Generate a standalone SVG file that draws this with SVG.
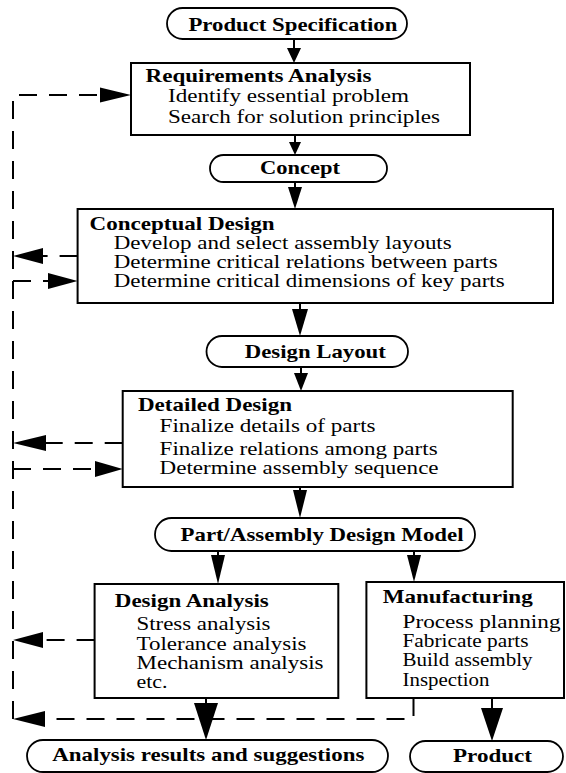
<svg xmlns="http://www.w3.org/2000/svg" width="566" height="773" viewBox="0 0 566 773">
<style>
.bg{fill:#fff}
.box{fill:#fff;stroke:#000;stroke-width:2}
.pill{fill:#fff;stroke:#000;stroke-width:1.8}
.t{font-family:"Liberation Serif","Times New Roman",serif;font-size:19px;fill:#000}
.b{font-weight:bold}
.ln{fill:none;stroke:#000;stroke-width:2}
.dl{fill:none;stroke:#000;stroke-width:2;stroke-dasharray:18 12}
.ah{fill:#000;stroke:none}
</style>
<rect class="bg" x="0" y="0" width="566" height="773"/>

<g id="product-specification">
<rect class="pill" x="167" y="8" width="240" height="31" rx="15.5"/>
<text class="t b" x="188.4" y="30.5" textLength="209" lengthAdjust="spacingAndGlyphs">Product Specification</text>
</g>

<g id="requirements-analysis">
<rect class="box" x="131" y="63" width="339" height="72"/>
<text class="t b" x="145.5" y="82" textLength="226" lengthAdjust="spacingAndGlyphs">Requirements Analysis</text>
<text class="t" x="168" y="102" textLength="241" lengthAdjust="spacingAndGlyphs">Identify essential problem</text>
<text class="t" x="168" y="123" textLength="272" lengthAdjust="spacingAndGlyphs">Search for solution principles</text>
</g>

<g id="concept">
<rect class="pill" x="210" y="155" width="177" height="27" rx="13.5"/>
<text class="t b" x="260" y="174" textLength="80" lengthAdjust="spacingAndGlyphs">Concept</text>
</g>

<g id="conceptual-design">
<rect class="box" x="77.6" y="209" width="475.4" height="94"/>
<text class="t b" x="89.5" y="230" textLength="185" lengthAdjust="spacingAndGlyphs">Conceptual Design</text>
<text class="t" x="113.7" y="249" textLength="338" lengthAdjust="spacingAndGlyphs">Develop and select assembly layouts</text>
<text class="t" x="113.7" y="268" textLength="384" lengthAdjust="spacingAndGlyphs">Determine critical relations between parts</text>
<text class="t" x="113.7" y="287" textLength="391" lengthAdjust="spacingAndGlyphs">Determine critical dimensions of key parts</text>
</g>

<g id="design-layout">
<rect class="pill" x="206.5" y="336" width="201.5" height="31" rx="15.5"/>
<text class="t b" x="244.8" y="358" textLength="141" lengthAdjust="spacingAndGlyphs">Design Layout</text>
</g>

<g id="detailed-design">
<rect class="box" x="122.7" y="391" width="390" height="96"/>
<text class="t b" x="138" y="411" textLength="154" lengthAdjust="spacingAndGlyphs">Detailed Design</text>
<text class="t" x="159.6" y="432" textLength="216" lengthAdjust="spacingAndGlyphs">Finalize details of parts</text>
<text class="t" x="159.6" y="455" textLength="278" lengthAdjust="spacingAndGlyphs">Finalize relations among parts</text>
<text class="t" x="159.6" y="474" textLength="279" lengthAdjust="spacingAndGlyphs">Determine assembly sequence</text>
</g>

<g id="part-assembly-design-model">
<rect class="pill" x="155" y="518" width="320" height="33" rx="16.5"/>
<text class="t b" x="180.5" y="541" textLength="283" lengthAdjust="spacingAndGlyphs">Part/Assembly Design Model</text>
</g>

<g id="design-analysis">
<rect class="box" x="94.6" y="584" width="243.7" height="114"/>
<text class="t b" x="114.8" y="607" textLength="154" lengthAdjust="spacingAndGlyphs">Design Analysis</text>
<text class="t" x="136.5" y="630" textLength="134" lengthAdjust="spacingAndGlyphs">Stress analysis</text>
<text class="t" x="136.5" y="650" textLength="170" lengthAdjust="spacingAndGlyphs">Tolerance analysis</text>
<text class="t" x="136.5" y="669" textLength="187" lengthAdjust="spacingAndGlyphs">Mechanism analysis</text>
<text class="t" x="136.5" y="688" textLength="31" lengthAdjust="spacingAndGlyphs">etc.</text>
</g>

<g id="manufacturing">
<rect class="box" x="366.4" y="582" width="197.6" height="116"/>
<text class="t b" x="382.7" y="603" textLength="150" lengthAdjust="spacingAndGlyphs">Manufacturing</text>
<text class="t" x="402.5" y="628" textLength="158" lengthAdjust="spacingAndGlyphs">Process planning</text>
<text class="t" x="402.5" y="647" textLength="126" lengthAdjust="spacingAndGlyphs">Fabricate parts</text>
<text class="t" x="402.5" y="666" textLength="130" lengthAdjust="spacingAndGlyphs">Build assembly</text>
<text class="t" x="402.5" y="686" textLength="87" lengthAdjust="spacingAndGlyphs">Inspection</text>
</g>

<g id="analysis-results">
<rect class="pill" x="27" y="740" width="361" height="32" rx="16"/>
<text class="t b" x="52.3" y="761" textLength="312" lengthAdjust="spacingAndGlyphs">Analysis results and suggestions</text>
</g>

<g id="product">
<rect class="pill" x="410" y="741" width="153" height="31" rx="15.5"/>
<text class="t b" x="453" y="762" textLength="79" lengthAdjust="spacingAndGlyphs">Product</text>
</g>

<g id="connectors">
<line class="ln" x1="294" y1="39" x2="294" y2="50"/>
<polygon class="ah" points="287,48 301,48 294,63"/>
<line class="ln" x1="295" y1="135" x2="295" y2="144"/>
<polygon class="ah" points="289,142 301,142 295,155"/>
<line class="ln" x1="295" y1="182" x2="295" y2="190"/>
<polygon class="ah" points="288,187 302,187 295,209"/>
<line class="ln" x1="300" y1="303" x2="300" y2="311"/>
<polygon class="ah" points="292,309 308,309 300,336"/>
<line class="ln" x1="301" y1="367" x2="301" y2="375"/>
<polygon class="ah" points="294,373 308,373 301,391"/>
<line class="ln" x1="300" y1="487" x2="300" y2="492"/>
<polygon class="ah" points="293,490 307,490 300,518"/>
<line class="ln" x1="218" y1="551" x2="218" y2="557"/>
<polygon class="ah" points="211,555 225,555 218,584"/>
<line class="ln" x1="414" y1="551" x2="414" y2="557"/>
<polygon class="ah" points="407,555 421,555 414,582"/>
<line class="ln" x1="206" y1="698" x2="206" y2="705"/>
<polygon class="ah" points="194,703 218,703 206,740"/>
<line class="ln" x1="492" y1="698" x2="492" y2="710"/>
<polygon class="ah" points="481,708 503,708 492,741"/>

<path class="dl" d="M413.5 698 V719 H45"/>
<polygon class="ah" points="45,711 45,727 13,719"/>
<path class="dl" d="M13 719 V95 H100"/>
<polygon class="ah" points="100,87.5 100,102.5 131,95"/>
<path class="dl" d="M77.6 256 H43"/>
<polygon class="ah" points="43,248 43,264 13,256"/>
<path class="dl" d="M13 281 H48"/>
<polygon class="ah" points="48,273 48,289 77.6,281"/>
<path class="dl" d="M122.7 443 H45"/>
<polygon class="ah" points="46,435 46,451 13,443"/>
<path class="dl" d="M13 469 H95"/>
<polygon class="ah" points="95,461 95,477 122.7,469"/>
<path class="dl" d="M94.6 640 H43"/>
<polygon class="ah" points="43,632 43,648 13,640"/>
</g>
</svg>
